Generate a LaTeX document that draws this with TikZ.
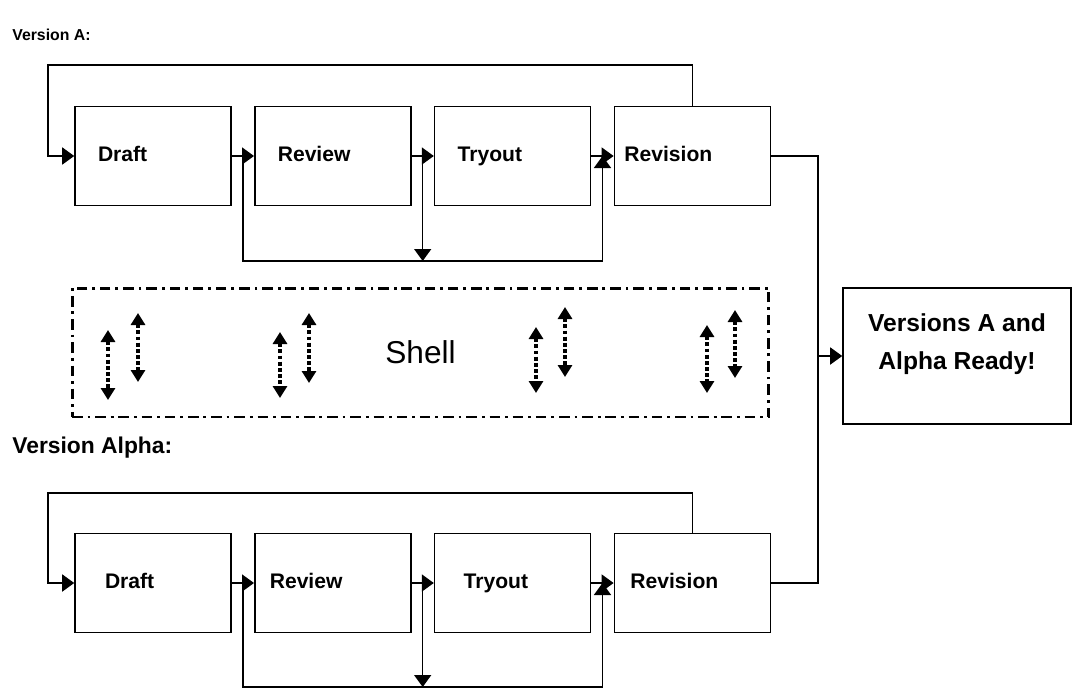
\documentclass[tikz,border=0pt]{standalone}
\usepackage{fontspec}
\setmainfont{Liberation Sans}
\usetikzlibrary{arrows.meta, positioning, calc}
\tikzset{
  stagebox/.style={rectangle, draw, line width=0.9pt, minimum height=1.98cm,
                   align=left, inner xsep=0.46cm, text width=2.2cm,
                   text height=0.3cm, text depth=0.1cm,
                   font=\fontsize{12}{14}\selectfont\bfseries},
  textpad/.style={inner xsep=#1, text width=3.12cm-2*#1},
  readybox/.style={rectangle, draw, line width=0.9pt, minimum width=4.56cm,
                   minimum height=2.72cm, align=center, text depth=0.58cm,
                   font=\fontsize{14}{21.6}\selectfont\bfseries},
  shellbox/.style={rectangle, draw, line width=1.7pt, inner sep=0pt,
                   dash pattern=on 6pt off 2.8pt on 1.6pt off 2.8pt,
                   minimum width=13.94cm, minimum height=2.58cm,
                   font=\fontsize{18}{20}\selectfont},
  versionlabel/.style={anchor=base west, inner sep=0pt, font=\bfseries},
  wire/.style={line width=0.9pt},
  arrow/.style={-{Triangle[length=0.24cm, width=0.34cm]}, line width=0.9pt},
  shellarrow/.style={{Triangle[length=0.24cm, width=0.28cm]}-{Triangle[length=0.24cm, width=0.28cm]},
                     line width=1.8pt, dash pattern=on 2.2pt off 1.3pt},
}
\begin{document}
\begin{tikzpicture}[x=0.02cm, y=-0.02cm, node distance=0.445cm]
  \useasboundingbox (0,0) rectangle (1075,690);

  % Version A row
  \node (labelA) at (12,40) [versionlabel, font=\fontsize{9}{11}\selectfont\bfseries] {Version A:};
  \node (draftA) at (153,156) [stagebox] {Draft};
  \node (reviewA) [stagebox, right=of draftA] {Review};
  \node (tryoutA) [stagebox, right=of reviewA] {Tryout};
  \node (revisionA) [stagebox, textpad=0.2cm, right=of tryoutA] {Revision};

  % Version Alpha row
  \node (labelB) at (12,453) [versionlabel, font=\fontsize{13}{15}\selectfont\bfseries] {Version Alpha:};
  \node (draftB) at (153,583) [stagebox, textpad=0.6cm] {Draft};
  \node (reviewB) [stagebox, textpad=0.3cm, right=of draftB] {Review};
  \node (tryoutB) [stagebox, textpad=0.58cm, right=of reviewB] {Tryout};
  \node (revisionB) [stagebox, textpad=0.32cm, right=of tryoutB] {Revision};

  % Shell and result
  \node (shell) at (420.5,352.5) [shellbox] {Shell};
  \node (ready) at (957,356) [readybox] {Versions A and\\Alpha Ready!};

  \foreach \x/\ya/\yb in {108/330/400, 138/313/382, 280/332/398, 309/313/383,
                          536/327/393, 565/307/377, 707/325/393, 735/310/378}
    \draw[shellarrow] (\x,\ya) -- (\x,\yb);

  % Junctions
  \coordinate (topA) at (48,65);
  \coordinate (loopA) at (602,261);
  \coordinate (topB) at (48,493);
  \coordinate (loopB) at (602,687);
  \coordinate (bus) at (818,0);
  \coordinate (splitA) at ($(draftA.east)!0.5!(reviewA.west)$);
  \coordinate (checkA) at ($(reviewA.east)!0.5!(tryoutA.west)$);
  \coordinate (mergeA) at ($(tryoutA.east)!0.5!(revisionA.west)$);
  \coordinate (splitB) at ($(draftB.east)!0.5!(reviewB.west)$);
  \coordinate (checkB) at ($(reviewB.east)!0.5!(tryoutB.west)$);
  \coordinate (mergeB) at ($(tryoutB.east)!0.5!(revisionB.west)$);

  % Version A arrows
  \draw[arrow] (draftA) -- (reviewA);
  \draw[arrow] (reviewA) -- (tryoutA);
  \draw[arrow] (tryoutA) -- (revisionA);
  \draw[arrow] (revisionA.north) |- (topA) |- (draftA.west);
  \draw[arrow] (splitA) |- (mergeA |- loopA) -- (mergeA);
  \draw[arrow] (checkA) -- (checkA |- loopA);

  % Version Alpha arrows
  \draw[arrow] (draftB) -- (reviewB);
  \draw[arrow] (reviewB) -- (tryoutB);
  \draw[arrow] (tryoutB) -- (revisionB);
  \draw[arrow] (revisionB.north) |- (topB) |- (draftB.west);
  \draw[arrow] (splitB) |- (mergeB |- loopB) -- (mergeB);
  \draw[arrow] (checkB) -- (checkB |- loopB);

  % Both versions into result
  \draw[wire] (revisionA.east) -- (revisionA.east -| bus) -- (revisionB.east -| bus) -- (revisionB.east);
  \draw[arrow] (ready.west -| bus) -- (ready.west);
\end{tikzpicture}
\end{document}
